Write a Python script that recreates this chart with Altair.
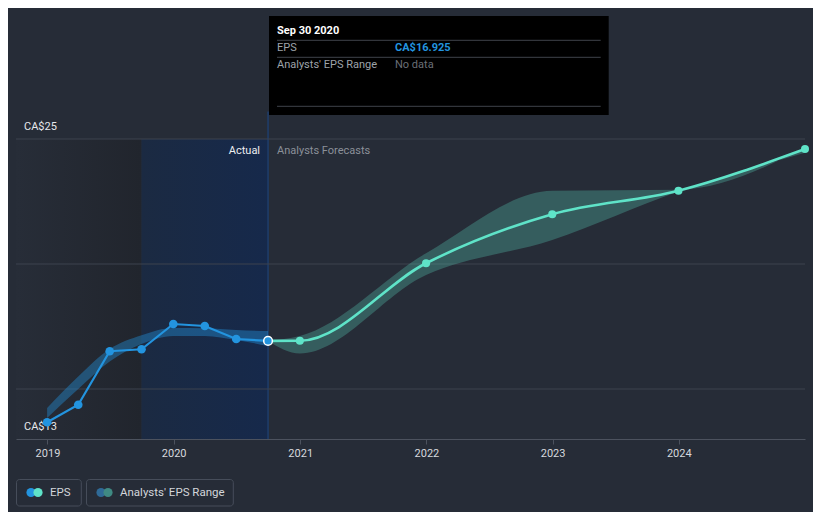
import altair as alt
import pandas as pd

# ---------------- data ----------------
actual_dates = ["2018-12-31", "2019-03-31", "2019-06-30", "2019-09-30",
                "2019-12-31", "2020-03-31", "2020-06-30", "2020-09-30"]
actual_eps = [13.67, 14.37, 16.51, 16.59, 17.60, 17.52, 17.00, 16.925]
past_range_high = [14.24, 15.50, 16.60, 17.15, 17.44, 17.43, 17.36, 17.32]
past_range_low = [13.84, 15.00, 16.10, 16.80, 17.12, 17.12, 16.96, 16.72]

forecast_dates = ["2020-09-30", "2020-12-31", "2021-12-31", "2022-12-31",
                  "2023-12-31", "2024-12-31"]
forecast_eps = [16.925, 16.93, 20.03, 21.99, 22.93, 24.60]
forecast_high = [16.925, 17.12, 20.43, 22.93, 22.97, 24.64]
forecast_low = [16.925, 16.42, 19.56, 20.96, 22.90, 24.45]

grid_values = [15, 20, 25]
y_label_values = [13, 25]
y_label_texts = ["CA$13", "CA$25"]
year_ticks = [2019, 2020, 2021, 2022, 2023, 2024]

past_region = {"start": "2018-10-02", "end": "2019-09-30"}
actual_region = {"start": "2019-09-30", "end": "2020-09-30"}
region_low, region_high = 13, 25

tooltip_title = "Sep 30 2020"
tooltip_rows = ["EPS", "Analysts' EPS Range"]
tooltip_vals = ["CA$16.925", "No data"]
legend_labels = ["EPS", "Analysts' EPS Range"]

# ---------------- styles ----------------
BG = "#262c37"
BLUE = "#2394df"
TEAL = "#5fe3c8"
FONT = "Roboto"

actual_df = pd.DataFrame({"date": actual_dates, "eps": actual_eps,
                          "high": past_range_high, "low": past_range_low})
fc_df = pd.DataFrame({"date": forecast_dates, "eps": forecast_eps,
                      "high": forecast_high, "low": forecast_low})

xscale = alt.Scale(type="utc", nice=False,
                   domain=[alt.DateTime(year=2018, month=10, date=2, utc=True),
                           alt.DateTime(year=2024, month=12, date=31, utc=True)])
yscale = alt.Scale(domain=[13, 30.24], nice=False, zero=False)

xaxis = alt.Axis(values=[alt.DateTime(year=y, month=1, date=1, utc=True) for y in year_ticks],
                 format="%Y", labelColor="#d6d9de", labelFont=FONT, labelFontSize=11,
                 domainColor="#4c525e", tickColor="#4c525e", tickSize=5,
                 labelPadding=3, grid=False, zindex=1, title=None)


def X(f):
    return alt.X(f, type="temporal", scale=xscale, axis=xaxis)


def Y(f):
    return alt.Y(f, type="quantitative", scale=yscale, axis=None)


def one(**kw):
    return pd.DataFrame({k: [v] for k, v in kw.items()})


layers = []

# shaded past region (gradient)
layers.append(
    alt.Chart(one(s=past_region["start"], e=past_region["end"], lo=region_low, hi=region_high))
    .mark_rect(fill=alt.Gradient(gradient="linear", x1=0, x2=1, y1=0, y2=0,
                                 stops=[alt.GradientStop(color="#272d38", offset=0),
                                        alt.GradientStop(color="#21252d", offset=1)]))
    .encode(x=X("s"), x2=alt.X2("e"), y=Y("lo"), y2=alt.Y2("hi"))
)
# actual (last 12 months) region
layers.append(
    alt.Chart(one(s=actual_region["start"], e=actual_region["end"], lo=region_low, hi=region_high))
    .mark_rect(fill=alt.Gradient(gradient="linear", x1=0, x2=1, y1=0, y2=0,
                                 stops=[alt.GradientStop(color="#1b2a42", offset=0),
                                        alt.GradientStop(color="#16294b", offset=1)]))
    .encode(x=X("s"), x2=alt.X2("e"), y=Y("lo"), y2=alt.Y2("hi"))
)
# vertical present line
layers.append(
    alt.Chart(one(d=actual_region["end"], lo=region_low, hi=26.1))
    .mark_rule(color="#1f3e6c", strokeWidth=1.5)
    .encode(x=X("d"), y=Y("lo"), y2=alt.Y2("hi"))
)
# grid lines
layers.append(
    alt.Chart(pd.DataFrame({"g": grid_values}))
    .mark_rule(color="#3c424e", strokeWidth=1)
    .encode(y=Y("g"))
)
# y labels
layers.append(
    alt.Chart(pd.DataFrame({"v": y_label_values, "t": y_label_texts}))
    .mark_text(align="left", baseline="middle", dy=-12, font=FONT, fontSize=11, color="#e6e8eb")
    .encode(y=Y("v"), x=alt.value(8), text="t:N")
)
# past range band
layers.append(
    alt.Chart(actual_df)
    .mark_area(color=BLUE, opacity=0.4, interpolate="monotone")
    .encode(x=X("date"), y=Y("low"), y2=alt.Y2("high"))
)
# forecast range band
layers.append(
    alt.Chart(fc_df)
    .mark_area(color=TEAL, opacity=0.27, interpolate="monotone")
    .encode(x=X("date"), y=Y("low"), y2=alt.Y2("high"))
)
# actual line + points
layers.append(
    alt.Chart(actual_df).mark_line(color=BLUE, strokeWidth=2.2)
    .encode(x=X("date"), y=Y("eps"))
)
layers.append(
    alt.Chart(actual_df.iloc[:-1]).mark_point(filled=True, color=BLUE, size=75, opacity=1)
    .encode(x=X("date"), y=Y("eps"))
)
# forecast line + points
layers.append(
    alt.Chart(fc_df).mark_line(color=TEAL, strokeWidth=2.6, interpolate="monotone")
    .encode(x=X("date"), y=Y("eps"))
)
layers.append(
    alt.Chart(fc_df.iloc[1:]).mark_point(filled=True, color=TEAL, size=65, opacity=1)
    .encode(x=X("date"), y=Y("eps"))
)
# highlighted point
layers.append(
    alt.Chart(actual_df.iloc[-1:]).mark_point(filled=True, fill=BLUE, stroke="white",
                                               strokeWidth=1.5, size=75, opacity=1)
    .encode(x=X("date"), y=Y("eps"))
)
# Actual / Analysts Forecasts labels
layers.append(
    alt.Chart(one(d=actual_region["end"], v=24.52, t="Actual"))
    .mark_text(align="right", baseline="middle", dx=-8, font=FONT, fontSize=11, color="#eceef0")
    .encode(x=X("d"), y=Y("v"), text="t:N")
)
layers.append(
    alt.Chart(one(d=actual_region["end"], v=24.52, t="Analysts Forecasts"))
    .mark_text(align="left", baseline="middle", dx=9, font=FONT, fontSize=11, color="#8b9099")
    .encode(x=X("d"), y=Y("v"), text="t:N")
)

# ---------------- tooltip box ----------------
layers.append(
    alt.Chart(one(a=0)).mark_rect(color="black")
    .encode(x=alt.value(253), x2=alt.value(592.7), y=alt.value(8), y2=alt.value(107))
)
for yy in [32.3, 49.3, 98.3]:
    layers.append(
        alt.Chart(one(a=0)).mark_rule(color="#3f434a", strokeWidth=1)
        .encode(x=alt.value(261), x2=alt.value(584.7), y=alt.value(yy))
    )
layers.append(
    alt.Chart(one(t=tooltip_title)).mark_text(align="left", baseline="middle", font=FONT,
                                               fontSize=11, fontWeight="bold", color="white")
    .encode(x=alt.value(261), y=alt.value(23), text="t:N")
)
for (lab, val, yy, vcol, vw) in [(tooltip_rows[0], tooltip_vals[0], 40.3, BLUE, "bold"),
                                 (tooltip_rows[1], tooltip_vals[1], 57, "#6a6f77", "normal")]:
    layers.append(
        alt.Chart(one(t=lab)).mark_text(align="left", baseline="middle", font=FONT,
                                         fontSize=11, color="#9ea3aa")
        .encode(x=alt.value(261), y=alt.value(yy), text="t:N")
    )
    layers.append(
        alt.Chart(one(t=val)).mark_text(align="left", baseline="middle", font=FONT,
                                         fontSize=11, fontWeight=vw, color=vcol)
        .encode(x=alt.value(379), y=alt.value(yy), text="t:N")
    )

# ---------------- legend ----------------
for (x1, x2) in [(0.5, 65.3), (70.5, 217.3)]:
    layers.append(
        alt.Chart(one(a=0)).mark_rect(fillOpacity=0, stroke="#464d5a", strokeWidth=1, cornerRadius=3)
        .encode(x=alt.value(x1), x2=alt.value(x2), y=alt.value(471.5), y2=alt.value(498))
    )
for (cx, col) in [(15, BLUE), (22, TEAL), (85, "#2f6a97"), (92, "#3f8a83")]:
    layers.append(
        alt.Chart(one(a=0)).mark_point(filled=True, color=col, size=85, opacity=1)
        .encode(x=alt.value(cx), y=alt.value(484.5))
    )
for (tx, lab) in [(34, legend_labels[0]), (104, legend_labels[1])]:
    layers.append(
        alt.Chart(one(t=lab)).mark_text(align="left", baseline="middle", font=FONT,
                                         fontSize=11.5, color="#d3d6db")
        .encode(x=alt.value(tx), y=alt.value(485), text="t:N")
    )

chart = (
    alt.layer(*layers)
    .properties(width=789, height=431, background=BG,
                padding={"left": 8, "top": 0, "right": 8, "bottom": 73},
                autosize=alt.AutoSizeParams(type="none"))
    .configure_view(stroke=None)
)

chart.save("out.html", embed_options={"renderer": "svg", "actions": False})
